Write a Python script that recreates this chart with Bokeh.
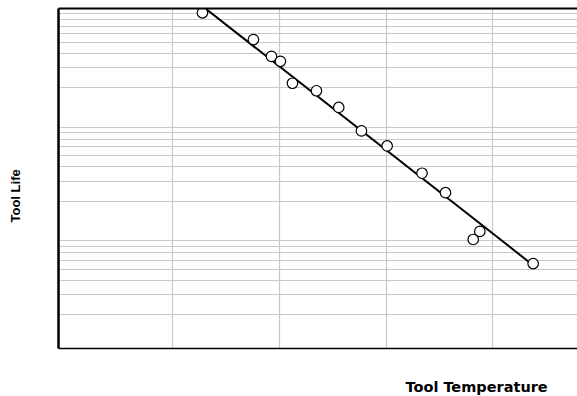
from bokeh.plotting import figure
from bokeh.models import Range1d, FixedTicker, LinearAxis, Title
from bokeh.embed import file_html
from bokeh.resources import INLINE

# ---- data ----
temperature = [627.7, 675.5, 692.4, 700.8, 712.1, 734.6, 755.5, 776.8, 800.9,
               833.6, 855.6, 887.8, 881.6, 937.8]
tool_life = [916, 532, 378, 342, 219, 188, 134, 83.2, 61.3, 35.2, 23.7, 10.8,
             9.16, 5.62]
fit_temperature = [627.7, 937.8]
fit_life = [1048, 5.43]

x_grid_vals = [600, 700, 800, 900]
y_grid_vals = [m * 10 ** k for k in range(3) for m in range(2, 10)]

x_title = "Tool Temperature"
y_title = "Tool Life"

p = figure(width=577, height=396, output_backend="svg", toolbar_location=None,
           x_range=Range1d(492.7, 979.4), y_range=Range1d(1, 1000),
           y_axis_type="log",
           min_border_left=58, min_border_right=0, min_border_top=8,
           min_border_bottom=48)
p.outline_line_color = None
p.background_fill_color = "white"
p.border_fill_color = "white"

# grids
p.xgrid.ticker = FixedTicker(ticks=x_grid_vals)
p.ygrid.ticker = FixedTicker(ticks=y_grid_vals)
for g in (p.xgrid, p.ygrid):
    g.grid_line_color = "#c8c8c8"
    g.grid_line_width = 1.2

# axes used only as frame borders
def strip(ax, width):
    ax.ticker = FixedTicker(ticks=[])
    ax.major_tick_line_color = None
    ax.minor_tick_line_color = None
    ax.major_tick_out = 0
    ax.major_tick_in = 0
    ax.minor_tick_out = 0
    ax.minor_tick_in = 0
    ax.major_label_standoff = 0
    ax.major_label_text_font_size = "0px"
    ax.axis_line_color = "black"
    ax.axis_line_width = width

strip(p.yaxis[0], 2.5)
strip(p.xaxis[0], 1.6)
top = LinearAxis()
strip(top, 2.2)
p.add_layout(top, "above")

# fitted line and points
p.line(fit_temperature, fit_life, line_color="black", line_width=2)
p.scatter(temperature, tool_life, marker="circle", size=10.5,
          fill_color="white", line_color="black", line_width=1.2)

# titles (an empty spacer title pushes each real title outwards)
p.add_layout(Title(text=" ", standoff=25, text_font_size="1px"), "below")
p.add_layout(Title(text=x_title, align="left", offset=347, standoff=0,
                   text_font="DejaVu Sans", text_font_style="bold",
                   text_font_size="14.5px", text_color="black"), "below")
p.add_layout(Title(text=" ", standoff=33, text_font_size="1px"), "left")
p.add_layout(Title(text=y_title, align="left", offset=126, standoff=0,
                   text_font="Liberation Sans", text_font_style="bold",
                   text_font_size="13px", text_color="black"), "left")

open("out.html", "w").write(file_html(p, INLINE))
